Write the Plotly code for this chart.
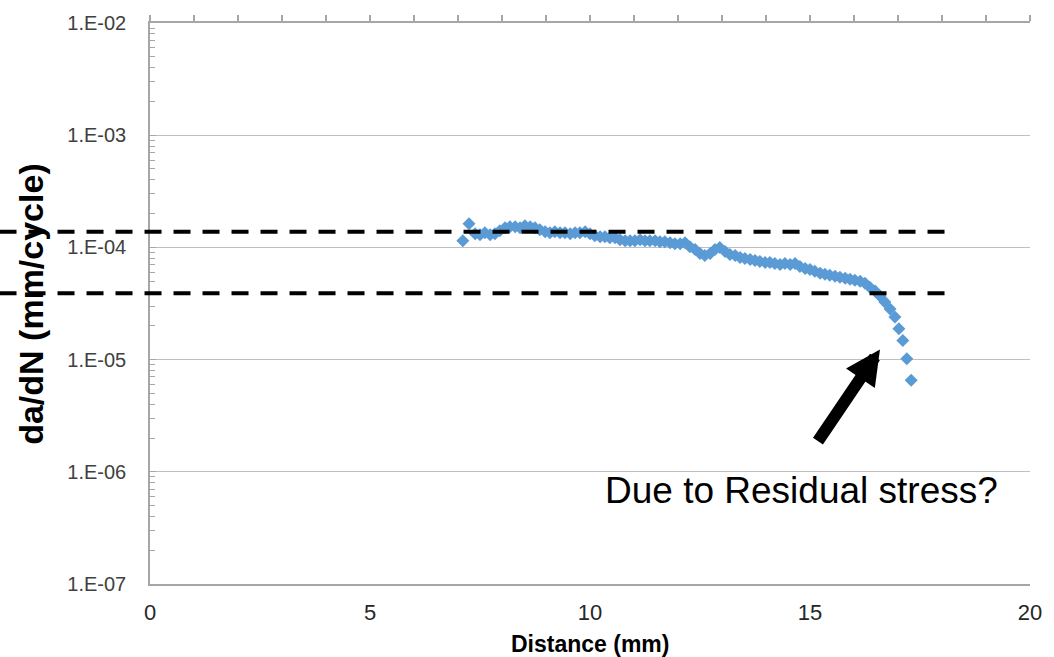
import plotly.graph_objects as go
import math

# Data
distance_mm = [7.11, 7.25, 7.39, 7.50, 7.61, 7.73, 7.84, 7.95, 8.07, 8.18, 8.30, 8.41, 8.52, 8.64,
               8.75, 8.86, 8.98, 9.09, 9.20, 9.32, 9.43, 9.55, 9.66, 9.77, 9.89, 10.00, 10.11,
               10.23, 10.34, 10.45, 10.57, 10.68, 10.80, 10.91, 11.02, 11.14, 11.25, 11.36, 11.48,
               11.59, 11.70, 11.82, 11.93, 12.05, 12.16, 12.27, 12.39, 12.50, 12.61, 12.73, 12.84,
               12.95, 13.07, 13.18, 13.30, 13.41, 13.52, 13.64, 13.75, 13.86, 13.98, 14.09, 14.20,
               14.32, 14.43, 14.55, 14.66, 14.77, 14.89, 15.00, 15.11, 15.23, 15.34, 15.45, 15.57,
               15.68, 15.80, 15.91, 16.02, 16.14, 16.25, 16.36, 16.48, 16.59, 16.70, 16.82, 16.93,
               17.02, 17.11, 17.20, 17.30]

dadn = [1.148e-4, 1.622e-4, 1.323e-4, 1.296e-4, 1.350e-4, 1.296e-4, 1.323e-4, 1.406e-4, 1.495e-4,
        1.526e-4, 1.526e-4, 1.495e-4, 1.557e-4, 1.526e-4, 1.495e-4, 1.435e-4, 1.378e-4, 1.350e-4,
        1.378e-4, 1.350e-4, 1.350e-4, 1.323e-4, 1.350e-4, 1.350e-4, 1.378e-4, 1.323e-4, 1.270e-4,
        1.245e-4, 1.245e-4, 1.220e-4, 1.220e-4, 1.171e-4, 1.148e-4, 1.148e-4, 1.148e-4, 1.171e-4,
        1.148e-4, 1.148e-4, 1.148e-4, 1.125e-4, 1.125e-4, 1.102e-4, 1.080e-4, 1.080e-4, 1.102e-4,
        1.016e-4, 9.56e-5, 8.82e-5, 8.47e-5, 8.82e-5, 9.56e-5, 9.96e-5, 9.18e-5, 8.64e-5, 8.47e-5,
        8.13e-5, 7.97e-5, 7.81e-5, 7.65e-5, 7.50e-5, 7.35e-5, 7.35e-5, 7.20e-5, 7.05e-5, 7.20e-5,
        7.05e-5, 7.20e-5, 6.77e-5, 6.50e-5, 6.37e-5, 6.12e-5, 5.87e-5, 5.75e-5, 5.64e-5, 5.53e-5,
        5.42e-5, 5.31e-5, 5.20e-5, 5.10e-5, 4.99e-5, 4.80e-5, 4.42e-5, 4.08e-5, 3.68e-5, 3.26e-5,
        2.83e-5, 2.40e-5, 1.88e-5, 1.48e-5, 1.02e-5, 6.55e-6]

x_ticks = [0, 5, 10, 15, 20]
y_tickvals = [1e-7, 1e-6, 1e-5, 1e-4, 1e-3, 1e-2]
y_ticktext = ["1.E-07", "1.E-06", "1.E-05", "1.E-04", "1.E-03", "1.E-02"]

ref_levels = [1.38e-4, 3.9e-5]   # dashed reference lines
arrow_tip = (16.59, 1.23e-5)
note_text = "Due to Residual stress?"

FONT = "Liberation Sans, Arial, sans-serif"
GRID = "#BFBFBF"
AXIS = "#A6A6A6"

fig = go.Figure()
fig.add_trace(go.Scatter(
    x=distance_mm, y=dadn, mode="markers",
    marker=dict(symbol="diamond", size=10, color="#5B9BD5"),
    hoverinfo="x+y", showlegend=False))
# invisible trace to anchor the top tick axis
fig.add_trace(go.Scatter(x=[x_ticks[0], x_ticks[-1]], y=[y_tickvals[-1], y_tickvals[-1]],
                         xaxis="x2", mode="markers", marker=dict(opacity=0),
                         hoverinfo="skip", showlegend=False))

fig.update_layout(
    width=1054, height=657,
    margin=dict(l=150, r=24, t=17, b=73),
    plot_bgcolor="white", paper_bgcolor="white",
    font=dict(family=FONT, color="#404040"),
    showlegend=False,
    xaxis=dict(range=[0, 20], tickvals=x_ticks, showgrid=False, zeroline=False,
               showline=True, linecolor=AXIS, linewidth=1.5, ticks="",
               tickfont=dict(size=22, color="#262626"), ticklabelstandoff=8),
    xaxis2=dict(range=[0, 20], overlaying="x", side="top", anchor="y",
                showgrid=False, zeroline=False, showline=True, linecolor=AXIS, linewidth=1.5,
                ticks="outside", ticklen=6, tickcolor=AXIS, tickwidth=1.5, dtick=1,
                showticklabels=False),
    yaxis=dict(type="log", range=[-7, -2], tickvals=y_tickvals, ticktext=y_ticktext,
               showgrid=True, gridcolor=GRID, gridwidth=1.3, zeroline=False,
               showline=True, linecolor=AXIS, linewidth=1.5,
               ticks="inside", ticklen=6, tickcolor=AXIS,
               minor=dict(ticks="inside", ticklen=5, tickcolor=AXIS, dtick="D1", showgrid=False),
               tickfont=dict(size=20, color="#404040"), ticklabelstandoff=18),
)

for lvl in ref_levels:
    fig.add_shape(type="line", xref="paper", yref="y", x0=-0.171, x1=0.903, y0=lvl, y1=lvl,
                  line=dict(color="black", width=4, dash="17px,12px"), layer="above")

fig.add_annotation(x=arrow_tip[0], y=math.log10(arrow_tip[1]), xref="x", yref="y",
                   text="", showarrow=True, arrowhead=2, arrowwidth=12, arrowsize=0.58,
                   arrowcolor="black", ax=-63, ay=93, standoff=0)
fig.add_annotation(x=14.81, y=-6.171, xref="x", yref="y", text=note_text, showarrow=False,
                   font=dict(size=37, color="black", family=FONT), xanchor="center", yanchor="middle")

fig.add_annotation(x=-0.136, y=0.5, xref="paper", yref="paper", text="<b>da/dN (mm/cycle)</b>",
                   textangle=-90, showarrow=False, font=dict(size=34, color="black", family=FONT),
                   xanchor="center", yanchor="middle")
fig.add_annotation(x=0.5, y=-0.1076, xref="paper", yref="paper", text="<b>Distance (mm)</b>",
                   showarrow=False, font=dict(size=23, color="black", family=FONT),
                   xanchor="center", yanchor="middle")

fig.write_html("out.html")
